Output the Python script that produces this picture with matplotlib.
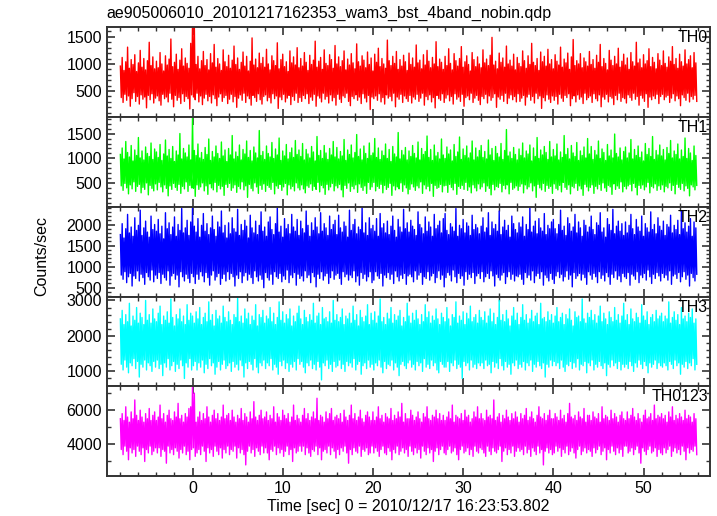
import numpy as np
import matplotlib
matplotlib.use("Agg")
import matplotlib.pyplot as plt
from matplotlib.ticker import MultipleLocator

plt.rcParams['font.family'] = ['Liberation Sans', 'DejaVu Sans']

# 320 columns of 0.2 s from -8.0 s; for every column the highest and the
# lowest rate seen in it (the curve is far denser than the pixels)
t_start = -8.0
t_bin = 0.2

# TH0, units of 10 counts/sec
th0_hi = [96, 112, 88, 104, 131, 92, 108, 99, 117, 86, 102, 125, 94, 110, 89, 106, 140, 97, 113, 91,
          105, 93, 121, 100, 87, 115, 98, 109, 146, 95, 103, 118, 90, 107, 128, 96, 111, 101, 92, 138,
          175, 172, 99, 114, 91, 106, 123, 97, 108, 89, 119, 102, 136, 94, 110, 100, 88, 126, 104, 95,
          116, 92, 107, 133, 99, 111, 90, 103, 122, 96, 114, 87, 105, 148, 98, 109, 93, 120, 101, 112,
          94, 127, 100, 89, 115, 106, 97, 139, 91, 108, 118, 95, 104, 86, 124, 102, 113, 98, 130, 93,
          110, 96, 121, 103, 88, 116, 99, 107, 142, 94, 105, 112, 90, 126, 101, 97, 117, 108, 92, 134,
          100, 113, 95, 106, 124, 89, 109, 98, 119, 102, 91, 137, 104, 96, 115, 107, 93, 122, 99, 111,
          87, 118, 103, 129, 95, 110, 100, 92, 144, 106, 97, 114, 101, 123, 90, 108, 96, 116, 104, 88,
          120, 99, 111, 94, 135, 102, 107, 91, 117, 98, 125, 105, 93, 112, 100, 141, 95, 109, 103, 90,
          114, 97, 128, 101, 89, 119, 106, 96, 110, 132, 94, 104, 115, 99, 87, 121, 108, 95, 113, 100,
          93, 126, 102, 109, 97, 116, 149, 98, 105, 91, 120, 103, 111, 94, 133, 100, 107, 96, 118, 89,
          112, 101, 95, 124, 106, 92, 115, 99, 138, 103, 97, 110, 88, 122, 104, 114, 96, 127, 100, 108,
          91, 117, 105, 98, 131, 94, 109, 102, 120, 90, 113, 145, 97, 106, 100, 119, 93, 111, 104, 96,
          123, 99, 108, 92, 116, 103, 136, 95, 110, 101, 89, 125, 107, 97, 114, 100, 129, 94, 105, 118,
          98, 111, 90, 121, 104, 96, 140, 102, 109, 93, 117, 100, 106, 128, 95, 112, 103, 91, 119, 107,
          97, 124, 101, 94, 113, 105, 132, 99, 110, 92, 118, 104, 96, 126, 100, 108, 115, 93, 121, 102]
th0_lo = [38, 29, 44, 33, 41, 22, 36, 47, 31, 40, 26, 43, 35, 39, 19, 42, 34, 45, 28, 37,
          41, 32, 24, 44, 36, 39, 30, 46, 35, 21, 42, 33, 38, 27, 45, 31, 40, 36, 17, 43,
          39, 34, 46, 30, 41, 25, 37, 44, 32, 40, 28, 43, 36, 23, 39, 45, 31, 38, 42, 27,
          35, 44, 30, 40, 20, 37, 43, 33, 46, 29, 41, 36, 24, 42, 38, 31, 45, 34, 26, 40,
          43, 32, 38, 28, 45, 36, 41, 18, 39, 34, 44, 30, 37, 42, 25, 40, 33, 46, 29, 38,
          31, 42, 36, 45, 27, 39, 33, 44, 22, 41, 37, 30, 46, 35, 40, 28, 43, 32, 38, 24,
          44, 35, 29, 41, 38, 46, 31, 23, 40, 36, 43, 33, 39, 27, 45, 37, 30, 42, 16, 39,
          36, 41, 33, 45, 30, 38, 26, 43, 37, 40, 32, 46, 21, 39, 35, 44, 29, 41, 36, 31,
          42, 28, 39, 35, 44, 31, 37, 46, 24, 40, 34, 43, 30, 38, 19, 42, 36, 33, 45, 29,
          37, 43, 32, 40, 26, 45, 35, 39, 31, 44, 22, 38, 41, 34, 46, 29, 37, 42, 33, 25,
          40, 36, 44, 28, 41, 33, 38, 45, 20, 39, 35, 42, 31, 46, 27, 37, 43, 34, 40, 30,
          45, 31, 37, 42, 24, 39, 44, 33, 40, 28, 46, 36, 41, 18, 38, 32, 43, 35, 29, 41,
          33, 40, 26, 44, 37, 31, 42, 38, 45, 23, 36, 41, 30, 43, 35, 39, 27, 46, 34, 38,
          41, 29, 45, 36, 32, 43, 21, 39, 35, 44, 30, 40, 37, 25, 42, 34, 46, 31, 38, 36,
          28, 43, 38, 33, 46, 35, 40, 24, 42, 37, 31, 45, 20, 39, 34, 41, 36, 44, 27, 40,
          44, 34, 39, 42, 29, 37, 45, 32, 41, 36, 23, 43, 38, 33, 46, 30, 40, 35, 42, 31]

# TH1, units of 10 counts/sec
th1_hi = [108, 121, 99, 134, 112, 103, 126, 95, 117, 106, 142, 101, 115, 97, 123, 110, 104, 131, 98, 119,
          113, 102, 128, 96, 109, 137, 105, 118, 100, 124, 94, 115, 107, 150, 99, 120, 111, 103, 127, 97,
          185, 116, 106, 129, 101, 112, 98, 122, 108, 139, 96, 114, 103, 125, 110, 100, 133, 105, 117, 94,
          120, 107, 146, 99, 113, 104, 127, 97, 118, 109, 135, 102, 116, 95, 123, 111, 101, 156, 106, 114,
          98, 125, 110, 103, 132, 100, 119, 107, 141, 96, 115, 105, 128, 99, 112, 121, 102, 136, 108, 117,
          104, 130, 97, 118, 109, 101, 124, 113, 95, 144, 106, 116, 100, 126, 111, 98, 120, 107, 134, 103,
          122, 99, 114, 105, 138, 96, 117, 108, 127, 101, 112, 148, 104, 119, 97, 125, 110, 100, 131, 106,
          111, 140, 102, 121, 98, 115, 106, 129, 100, 118, 94, 124, 109, 103, 152, 99, 116, 107, 122, 97,
          115, 104, 126, 110, 101, 133, 97, 120, 108, 114, 145, 102, 118, 96, 127, 105, 112, 99, 139, 107,
          100, 123, 109, 117, 95, 128, 104, 113, 143, 98, 119, 106, 125, 101, 111, 135, 97, 121, 103, 116,
          126, 102, 114, 99, 137, 107, 120, 96, 124, 110, 103, 130, 98, 116, 158, 105, 113, 100, 122, 108,
          97, 119, 106, 131, 101, 115, 109, 127, 95, 121, 104, 142, 100, 117, 107, 124, 112, 98, 134, 103,
          118, 105, 129, 97, 113, 102, 146, 108, 120, 99, 126, 111, 104, 132, 96, 115, 106, 123, 101, 140,
          109, 124, 98, 116, 107, 135, 100, 119, 112, 96, 128, 105, 117, 101, 149, 110, 103, 121, 97, 114,
          123, 101, 111, 138, 99, 118, 106, 125, 102, 113, 95, 130, 108, 120, 104, 144, 98, 116, 107, 127,
          105, 118, 97, 122, 110, 136, 101, 115, 108, 129, 99, 117, 104, 141, 100, 120, 111, 96, 125, 106]
th1_lo = [45, 36, 50, 41, 29, 47, 39, 53, 34, 44, 48, 31, 42, 38, 51, 27, 46, 40, 35, 49,
          37, 52, 43, 33, 47, 40, 25, 45, 38, 50, 42, 36, 48, 30, 44, 39, 53, 34, 46, 41,
          40, 24, 47, 38, 43, 51, 35, 45, 28, 49, 41, 37, 52, 33, 46, 39, 44, 26, 48, 42,
          50, 36, 41, 47, 32, 44, 39, 53, 37, 45, 22, 48, 40, 35, 51, 43, 30, 46, 38, 49,
          34, 46, 42, 38, 52, 29, 45, 40, 48, 36, 43, 50, 27, 47, 39, 44, 35, 51, 41, 37,
          47, 39, 31, 45, 42, 49, 36, 44, 38, 52, 33, 46, 41, 28, 48, 37, 43, 50, 35, 45,
          41, 48, 37, 23, 46, 40, 51, 34, 44, 39, 47, 32, 49, 42, 36, 45, 30, 52, 38, 43,
          52, 35, 44, 40, 48, 31, 46, 38, 42, 50, 26, 45, 37, 43, 39, 51, 34, 47, 41, 29,
          38, 49, 43, 36, 45, 41, 53, 30, 47, 39, 44, 35, 50, 24, 46, 40, 42, 48, 33, 45,
          46, 32, 48, 42, 37, 50, 28, 44, 40, 46, 38, 52, 36, 43, 31, 47, 41, 35, 49, 39,
          43, 51, 34, 45, 40, 27, 48, 37, 44, 42, 50, 33, 46, 39, 47, 29, 52, 38, 41, 45,
          36, 44, 49, 31, 47, 39, 43, 51, 35, 45, 22, 48, 41, 37, 50, 34, 46, 40, 44, 30,
          49, 40, 37, 46, 33, 52, 42, 38, 47, 29, 44, 41, 50, 36, 45, 39, 26, 48, 43, 35,
          42, 47, 30, 44, 39, 48, 36, 51, 41, 34, 46, 43, 28, 49, 38, 45, 40, 53, 33, 44,
          39, 45, 48, 35, 50, 42, 27, 46, 40, 47, 37, 43, 52, 31, 44, 41, 49, 36, 45, 38,
          47, 33, 44, 41, 51, 36, 46, 29, 48, 42, 38, 50, 35, 45, 40, 25, 47, 43, 37, 46]

# TH2, units of 20 counts/sec
th2_hi = [88, 101, 84, 95, 112, 90, 97, 86, 108, 93, 99, 117, 87, 96, 104, 91, 85, 110, 94, 100,
          92, 106, 89, 98, 83, 114, 95, 102, 88, 97, 109, 86, 100, 93, 119, 90, 96, 105, 87, 103,
          121, 98, 91, 107, 85, 99, 113, 92, 101, 88, 96, 110, 94, 86, 103, 97, 116, 90, 99, 84,
          102, 89, 108, 95, 91, 118, 87, 100, 93, 105, 98, 84, 111, 96, 90, 104, 88, 99, 115, 92,
          97, 86, 103, 109, 94, 88, 101, 120, 91, 98, 85, 107, 95, 100, 89, 112, 97, 92, 106, 87,
          104, 95, 90, 116, 99, 86, 102, 93, 108, 97, 89, 114, 92, 101, 96, 87, 110, 94, 100, 105,
          88, 111, 96, 91, 103, 98, 85, 117, 93, 100, 106, 89, 97, 94, 121, 90, 102, 87, 108, 95,
          99, 92, 107, 86, 113, 96, 101, 90, 104, 88, 98, 110, 93, 85, 106, 97, 91, 118, 95, 102,
          91, 105, 98, 94, 87, 115, 100, 96, 89, 109, 92, 103, 97, 86, 112, 95, 99, 104, 90, 107,
          113, 93, 88, 101, 97, 92, 119, 86, 99, 95, 106, 90, 102, 98, 87, 111, 94, 100, 96, 89,
          98, 108, 91, 96, 114, 87, 103, 95, 100, 92, 116, 88, 97, 105, 93, 99, 85, 110, 101, 94,
          90, 102, 97, 109, 86, 100, 94, 120, 91, 98, 104, 89, 107, 96, 92, 113, 88, 99, 95, 103,
          106, 95, 89, 100, 117, 93, 98, 87, 108, 101, 92, 97, 112, 90, 103, 96, 86, 105, 99, 91,
          97, 110, 94, 88, 102, 99, 114, 91, 96, 85, 107, 100, 93, 118, 89, 98, 104, 92, 101, 87,
          103, 90, 99, 112, 95, 88, 106, 97, 92, 110, 86, 101, 96, 91, 115, 94, 100, 89, 108, 98,
          93, 104, 87, 100, 97, 111, 90, 99, 94, 105, 88, 116, 95, 102, 91, 98, 107, 86, 103, 96]
th2_lo = [40, 35, 44, 31, 38, 42, 27, 39, 36, 45, 33, 41, 37, 29, 43, 38, 34, 46, 32, 40,
          36, 43, 30, 41, 37, 34, 45, 28, 39, 42, 35, 40, 26, 44, 38, 33, 41, 36, 31, 42,
          38, 30, 41, 35, 44, 39, 32, 43, 37, 28, 40, 45, 34, 38, 42, 29, 36, 41, 33, 44,
          35, 42, 38, 27, 40, 36, 44, 31, 39, 43, 34, 41, 37, 30, 45, 38, 33, 40, 35, 25,
          43, 37, 34, 41, 29, 44, 38, 36, 42, 32, 39, 35, 46, 31, 40, 37, 43, 28, 41, 36,
          39, 33, 45, 37, 40, 31, 43, 38, 26, 41, 36, 44, 34, 39, 42, 30, 37, 45, 35, 40,
          42, 36, 29, 44, 38, 41, 34, 40, 37, 45, 32, 39, 28, 43, 36, 41, 33, 38, 44, 31,
          34, 44, 39, 36, 42, 27, 40, 37, 43, 35, 41, 30, 45, 38, 33, 40, 36, 42, 29, 39,
          41, 38, 32, 45, 35, 40, 43, 29, 38, 36, 44, 34, 39, 42, 31, 37, 45, 35, 40, 26,
          37, 43, 40, 33, 46, 38, 31, 42, 36, 39, 28, 44, 35, 41, 37, 43, 30, 39, 42, 36,
          44, 32, 38, 42, 36, 45, 39, 27, 41, 37, 34, 40, 43, 30, 38, 44, 35, 41, 33, 39,
          38, 41, 35, 29, 43, 37, 40, 34, 45, 31, 39, 42, 36, 44, 28, 40, 37, 33, 42, 35,
          30, 39, 44, 37, 41, 33, 38, 45, 35, 40, 26, 43, 36, 39, 42, 34, 41, 37, 29, 44,
          40, 35, 42, 38, 31, 44, 36, 40, 33, 43, 38, 29, 41, 37, 45, 35, 39, 32, 42, 38,
          36, 43, 28, 41, 39, 35, 44, 31, 40, 37, 42, 34, 46, 38, 30, 41, 36, 43, 39, 33,
          42, 37, 40, 34, 45, 29, 39, 41, 36, 43, 32, 38, 44, 35, 40, 27, 42, 37, 33, 41]

# TH3, units of 40 counts/sec
th3_hi = [62, 68, 58, 65, 60, 73, 57, 64, 61, 70, 59, 66, 63, 58, 75, 61, 65, 59, 69, 62,
          60, 66, 71, 58, 64, 61, 67, 59, 76, 63, 57, 65, 62, 69, 60, 64, 58, 72, 61, 66,
          64, 59, 67, 62, 70, 58, 63, 66, 60, 74, 61, 65, 57, 68, 62, 64, 59, 71, 63, 60,
          67, 61, 58, 65, 63, 77, 60, 64, 59, 69, 62, 66, 58, 64, 61, 72, 57, 65, 63, 68,
          59, 64, 62, 70, 60, 66, 58, 63, 74, 61, 67, 59, 65, 62, 69, 57, 64, 60, 66, 71,
          62, 58, 68, 63, 60, 65, 61, 73, 59, 64, 66, 58, 70, 62, 63, 60, 67, 59, 75, 61,
          65, 60, 63, 69, 58, 64, 62, 66, 59, 71, 61, 65, 57, 68, 63, 60, 64, 72, 58, 66,
          61, 67, 59, 64, 76, 60, 63, 58, 66, 62, 70, 59, 65, 61, 64, 68, 57, 63, 60, 73,
          64, 59, 66, 61, 68, 62, 58, 65, 60, 72, 63, 67, 59, 64, 61, 69, 62, 58, 66, 63,
          60, 70, 62, 57, 65, 63, 74, 59, 64, 61, 67, 58, 66, 62, 71, 60, 63, 65, 59, 68,
          63, 61, 67, 59, 64, 69, 60, 66, 58, 63, 75, 61, 65, 60, 68, 62, 57, 64, 70, 61,
          66, 58, 63, 72, 61, 65, 59, 62, 68, 60, 64, 66, 58, 73, 62, 63, 60, 67, 61, 65,
          59, 64, 70, 60, 63, 66, 58, 65, 62, 69, 61, 57, 67, 63, 64, 60, 76, 62, 59, 66,
          63, 68, 61, 65, 59, 64, 71, 60, 66, 62, 58, 67, 63, 60, 70, 61, 65, 59, 64, 73,
          61, 65, 58, 69, 62, 60, 66, 63, 59, 72, 64, 61, 67, 58, 63, 65, 60, 68, 62, 64,
          66, 60, 64, 62, 74, 59, 63, 67, 61, 65, 58, 70, 62, 64, 60, 66, 63, 69, 59, 62]
th3_lo = [30, 26, 33, 28, 24, 31, 29, 34, 27, 32, 21, 30, 28, 33, 26, 31, 29, 25, 32, 28,
          33, 27, 30, 22, 31, 28, 34, 26, 29, 32, 25, 30, 27, 33, 29, 20, 31, 28, 34, 26,
          29, 32, 26, 31, 28, 33, 24, 30, 27, 34, 29, 31, 23, 28, 32, 26, 30, 33, 27, 29,
          31, 25, 32, 28, 30, 26, 33, 29, 21, 31, 27, 32, 30, 26, 34, 28, 24, 31, 29, 33,
          27, 31, 29, 34, 26, 30, 28, 23, 32, 29, 33, 27, 31, 25, 30, 28, 32, 26, 34, 30,
          32, 28, 24, 31, 29, 33, 27, 30, 26, 32, 28, 19, 31, 29, 33, 27, 30, 25, 32, 28,
          29, 33, 27, 30, 25, 32, 29, 31, 28, 34, 26, 30, 32, 23, 29, 31, 27, 33, 28, 30,
          26, 31, 29, 33, 28, 24, 32, 27, 30, 29, 33, 26, 31, 28, 22, 30, 32, 29, 27, 31,
          33, 28, 30, 26, 32, 29, 31, 25, 34, 28, 30, 27, 33, 29, 31, 26, 24, 32, 30, 28,
          28, 32, 25, 31, 29, 33, 27, 30, 28, 20, 32, 29, 31, 26, 33, 28, 30, 27, 31, 29,
          31, 27, 33, 29, 30, 24, 32, 28, 31, 27, 34, 29, 26, 32, 28, 30, 23, 31, 29, 33,
          27, 30, 28, 32, 26, 31, 29, 33, 25, 30, 28, 32, 29, 27, 31, 21, 30, 28, 33, 29,
          32, 29, 31, 27, 33, 28, 25, 30, 29, 32, 27, 31, 28, 34, 26, 30, 29, 32, 24, 31,
          29, 33, 26, 30, 28, 32, 29, 27, 31, 22, 30, 28, 33, 29, 31, 27, 32, 26, 30, 28,
          30, 27, 32, 29, 25, 31, 28, 33, 30, 27, 32, 29, 24, 31, 28, 30, 33, 27, 31, 29,
          28, 31, 29, 26, 32, 30, 27, 33, 29, 31, 23, 30, 28, 32, 27, 31, 29, 34, 26, 30]

# TH0123, units of 100 counts/sec
th0123_hi = [55, 58, 54, 62, 56, 53, 59, 55, 66, 57, 54, 60, 56, 53, 58, 55, 61, 54, 57, 59,
             54, 56, 63, 55, 58, 53, 57, 60, 55, 54, 59, 56, 64, 55, 57, 53, 58, 56, 61, 62,
             74, 70, 53, 56, 59, 54, 58, 55, 62, 56, 53, 57, 60, 55, 58, 54, 56, 63, 55, 57,
             58, 54, 60, 56, 53, 57, 55, 61, 54, 58, 56, 53, 59, 55, 65, 56, 54, 57, 60, 55,
             56, 59, 54, 57, 55, 62, 53, 58, 56, 54, 60, 57, 55, 58, 53, 56, 63, 54, 57, 55,
             53, 57, 61, 55, 58, 54, 56, 59, 55, 67, 54, 57, 56, 53, 59, 55, 58, 61, 54, 56,
             57, 55, 58, 53, 60, 56, 54, 57, 63, 55, 58, 54, 56, 60, 55, 53, 57, 59, 56, 54,
             59, 54, 56, 62, 55, 57, 53, 58, 56, 55, 61, 54, 57, 55, 59, 56, 64, 53, 58, 55,
             55, 60, 57, 54, 56, 59, 55, 53, 58, 56, 62, 55, 54, 57, 56, 60, 55, 58, 54, 57,
             54, 56, 59, 55, 63, 53, 57, 56, 55, 58, 54, 60, 56, 57, 53, 55, 59, 56, 62, 55,
             58, 55, 54, 60, 56, 57, 55, 66, 54, 56, 58, 53, 57, 55, 60, 56, 54, 58, 55, 59,
             56, 53, 58, 55, 57, 61, 54, 56, 59, 55, 53, 57, 62, 56, 55, 58, 54, 57, 60, 55,
             55, 58, 56, 54, 60, 55, 57, 53, 58, 64, 56, 55, 57, 54, 59, 56, 55, 61, 53, 57,
             57, 54, 59, 56, 55, 58, 53, 62, 55, 57, 56, 54, 60, 55, 58, 56, 53, 57, 59, 55,
             54, 59, 55, 57, 61, 56, 54, 58, 55, 53, 57, 60, 55, 56, 58, 54, 63, 55, 57, 56,
             58, 55, 57, 53, 59, 56, 62, 54, 57, 55, 58, 56, 54, 60, 55, 57, 56, 53, 58, 55]
th0123_lo = [37, 34, 39, 36, 31, 38, 35, 37, 33, 39, 36, 34, 38, 30, 37, 35, 39, 34, 36, 38,
             35, 38, 33, 37, 36, 29, 39, 35, 37, 34, 38, 36, 32, 37, 35, 39, 34, 36, 31, 37,
             38, 33, 35, 37, 34, 39, 36, 30, 38, 35, 37, 33, 39, 36, 34, 38, 32, 37, 35, 39,
             34, 37, 36, 39, 32, 38, 35, 37, 34, 28, 36, 39, 35, 37, 33, 38, 36, 34, 39, 35,
             38, 35, 31, 37, 36, 39, 34, 38, 35, 37, 33, 36, 39, 34, 37, 30, 38, 35, 36, 39,
             36, 39, 34, 38, 35, 33, 37, 36, 39, 34, 38, 31, 36, 37, 35, 39, 34, 38, 36, 32,
             37, 34, 38, 36, 39, 35, 29, 37, 34, 38, 36, 35, 39, 33, 37, 36, 38, 34, 35, 39,
             35, 38, 36, 33, 37, 39, 35, 34, 38, 36, 31, 37, 35, 39, 34, 36, 38, 35, 37, 33,
             39, 36, 34, 38, 35, 37, 32, 39, 36, 34, 38, 35, 37, 30, 36, 38, 34, 37, 39, 35,
             34, 37, 39, 35, 36, 38, 34, 31, 37, 39, 35, 36, 38, 34, 37, 33, 39, 36, 35, 38,
             37, 35, 33, 39, 36, 34, 38, 36, 35, 37, 39, 30, 36, 38, 34, 37, 35, 39, 33, 36,
             38, 36, 37, 34, 39, 35, 37, 33, 38, 36, 34, 39, 35, 37, 28, 36, 38, 35, 37, 34,
             35, 39, 36, 38, 33, 37, 35, 39, 34, 36, 38, 35, 32, 37, 39, 34, 36, 38, 35, 37,
             36, 33, 38, 35, 37, 39, 34, 36, 38, 31, 37, 35, 39, 36, 34, 38, 35, 37, 33, 39,
             39, 35, 36, 38, 34, 37, 39, 35, 29, 38, 36, 34, 37, 39, 35, 36, 38, 33, 37, 35,
             34, 38, 35, 37, 39, 33, 36, 38, 35, 37, 34, 39, 36, 31, 38, 35, 37, 36, 39, 34]

highs = [th0_hi, th1_hi, th2_hi, th3_hi, th0123_hi]
lows = [th0_lo, th1_lo, th2_lo, th3_lo, th0123_lo]
scale = [10, 10, 20, 40, 100]
names = ['TH0', 'TH1', 'TH2', 'TH3', 'TH0123']
colors = ['#ff0000', '#00ff00', '#0000ff', '#00ffff', '#ff00ff']
ylims = [(20, 1675), (30, 1830), (290, 2420), (580, 3110), (2150, 7400)]
ymajor = [500, 500, 500, 1000, 2000]
yminor = [100, 100, 100, 200, 1000]

title = 'ae905006010_20101217162353_wam3_bst_4band_nobin.qdp'
xlabel = 'Time [sec] 0 = 2010/12/17 16:23:53.802'

fig, axes = plt.subplots(5, 1, sharex=True, figsize=(7.17, 5.16), dpi=100)
fig.subplots_adjust(left=0.149, right=0.990, top=0.947, bottom=0.0775, hspace=0)

for ax, hi, lo, sc, name, col, yl, mj, mn in zip(axes, highs, lows, scale, names, colors,
                                                  ylims, ymajor, yminor):
    n = len(hi)
    t0 = t_start + t_bin * np.arange(n)
    # zigzag: top of each column, then its bottom half a bin later
    t = np.empty(2 * n)
    y = np.empty(2 * n)
    t[0::2] = t0
    t[1::2] = t0 + t_bin / 2
    y[0::2] = np.array(hi) * sc
    y[1::2] = np.array(lo) * sc
    ax.plot(t, y, color=col, lw=1.0)
    ax.set_ylim(yl)
    ax.set_xlim(-9.5, 57.35)
    ax.yaxis.set_major_locator(MultipleLocator(mj))
    ax.yaxis.set_minor_locator(MultipleLocator(mn))
    ax.xaxis.set_major_locator(MultipleLocator(10))
    ax.xaxis.set_minor_locator(MultipleLocator(2))
    ax.tick_params(which='both', direction='in', top=True, right=True,
                   color='#333333', labelsize=11.5)
    ax.tick_params(which='major', length=6, width=1.2)
    ax.tick_params(which='minor', length=3, width=1.0)
    for s in ax.spines.values():
        s.set_linewidth(1.4)
        s.set_color('#333333')
    ax.text(0.997, 0.965, name, transform=ax.transAxes, ha='right', va='top',
            fontsize=11.5)

axes[0].set_title(title, loc='left', fontsize=11.5, pad=7)
axes[-1].set_xlabel(xlabel, fontsize=11.5, labelpad=2)
fig.text(0.058, 0.504, 'Counts/sec', rotation=90, ha='center', va='center',
         fontsize=11.5)

fig.savefig('out.png', dpi=100)
